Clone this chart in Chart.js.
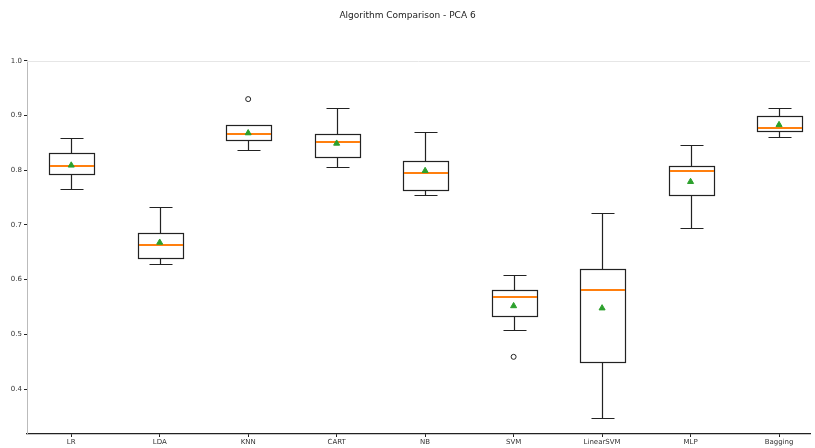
<!DOCTYPE html>
<html>
<head>
<meta charset="utf-8">
<script src="https://cdn.jsdelivr.net/npm/chart.js@4/dist/chart.umd.min.js"></script>
<style>
  html, body { margin: 0; padding: 0; background: #fff; overflow: hidden; }
  #wrap { width: 815px; height: 448px; position: relative; }
</style>
</head>
<body>
<div id="wrap"><canvas id="c"></canvas></div>
<script>
// Cross-validation accuracy per algorithm (box plot summary)
const categories   = ['LR', 'LDA', 'KNN', 'CART', 'NB', 'SVM', 'LinearSVM', 'MLP', 'Bagging'];
const whiskerLow   = [0.766, 0.628, 0.837, 0.806, 0.754, 0.508, 0.348, 0.695, 0.860];
const quartile1    = [0.793, 0.639, 0.855, 0.825, 0.764, 0.534, 0.449, 0.755, 0.872];
const medians      = [0.808, 0.663, 0.866, 0.851, 0.795, 0.569, 0.581, 0.799, 0.878];
const quartile3    = [0.831, 0.685, 0.882, 0.866, 0.817, 0.581, 0.620, 0.808, 0.900];
const whiskerHigh  = [0.859, 0.732, 0.882, 0.913, 0.869, 0.609, 0.721, 0.846, 0.913];
const means        = [0.809, 0.668, 0.868, 0.849, 0.799, 0.552, 0.548, 0.779, 0.883];
const outlierIndex = [2, 5];
const outlierValue = [0.930, 0.459];
const yTicks       = [0.4, 0.5, 0.6, 0.7, 0.8, 0.9, 1.0];

const boxPlugin = {
  id: 'boxes',
  beforeDatasetsDraw(chart) {
    const { ctx, scales: { x, y }, chartArea } = chart;
    ctx.save();
    // light top frame line
    ctx.strokeStyle = '#e6e6e6';
    ctx.lineWidth = 1;
    ctx.beginPath();
    ctx.moveTo(chartArea.left, Math.round(chartArea.top) + 0.5);
    ctx.lineTo(chartArea.right, Math.round(chartArea.top) + 0.5);
    ctx.stroke();

    const px = v => Math.round(v) + 0.5;
    categories.forEach((c, i) => {
      const cx = px(x.getPixelForValue(i + 1));
      const half = x.getPixelForValue(i + 1.25) - x.getPixelForValue(i + 1);
      const cap = half / 2;
      const yLo = px(y.getPixelForValue(whiskerLow[i]));
      const yQ1 = px(y.getPixelForValue(quartile1[i]));
      const yMd = Math.round(y.getPixelForValue(medians[i]));
      const yQ3 = px(y.getPixelForValue(quartile3[i]));
      const yHi = px(y.getPixelForValue(whiskerHigh[i]));
      const l = px(cx - half), r = px(cx + half);

      ctx.strokeStyle = '#222';
      ctx.lineWidth = 1.2;
      // box
      ctx.strokeRect(l, yQ3, r - l, yQ1 - yQ3);
      // whiskers
      ctx.beginPath();
      ctx.moveTo(cx, yQ3); ctx.lineTo(cx, yHi);
      ctx.moveTo(cx, yQ1); ctx.lineTo(cx, yLo);
      // caps
      ctx.moveTo(px(cx - cap), yHi); ctx.lineTo(px(cx + cap), yHi);
      ctx.moveTo(px(cx - cap), yLo); ctx.lineTo(px(cx + cap), yLo);
      ctx.stroke();
      // median
      ctx.strokeStyle = '#ff7f0e';
      ctx.lineWidth = 2;
      ctx.beginPath();
      ctx.moveTo(l + 0.5, yMd); ctx.lineTo(r - 0.5, yMd);
      ctx.stroke();
    });
    ctx.restore();
  }
};

new Chart(document.getElementById('c'), {
  type: 'scatter',
  data: {
    datasets: [
      {
        label: 'mean',
        data: categories.map((c, i) => ({ x: i + 1, y: means[i] })),
        pointStyle: 'triangle',
        pointRadius: 3.5,
        backgroundColor: '#2ca02c',
        borderColor: '#2ca02c',
        borderWidth: 1
      },
      {
        label: 'fliers',
        data: outlierIndex.map((k, j) => ({ x: k + 1, y: outlierValue[j] })),
        pointStyle: 'circle',
        pointRadius: 2.5,
        backgroundColor: '#fff',
        borderColor: '#222',
        borderWidth: 1
      }
    ]
  },
  options: {
    responsive: true,
    maintainAspectRatio: false,
    animation: false,
    devicePixelRatio: 1,
    layout: { padding: { left: 0, right: 0, top: 0, bottom: 0 } },
    plugins: {
      legend: { display: false },
      tooltip: { enabled: false },
      title: {
        display: true,
        text: 'Algorithm Comparison - PCA 6',
        color: '#222',
        font: { family: 'DejaVu Sans', size: 9, weight: 'normal' },
        padding: { top: 10, bottom: 40 }
      }
    },
    scales: {
      x: {
        type: 'linear',
        min: 0.5,
        max: 9.35,
        afterBuildTicks(scale) { scale.ticks = categories.map((c, i) => ({ value: i + 1 })); },
        afterFit(scale) { scale.height = 14; },
        ticks: {
          autoSkip: false,
          maxRotation: 0,
          padding: 1,
          color: '#333',
          font: { family: 'DejaVu Sans', size: 7 },
          callback: (v) => categories[Math.round(v) - 1]
        },
        grid: { drawOnChartArea: false, drawTicks: true, tickLength: 3, color: '#222' },
        border: { display: true, color: '#222', width: 1.2 }
      },
      y: {
        type: 'linear',
        min: 0.318,
        max: 1.0,
        afterBuildTicks(scale) { scale.ticks = yTicks.map(v => ({ value: v })); },
        afterFit(scale) { scale.width = 27; },
        ticks: {
          padding: 2,
          color: '#333',
          font: { family: 'DejaVu Sans', size: 7 },
          callback: (v) => v.toFixed(1)
        },
        grid: { drawOnChartArea: false, drawTicks: true, tickLength: 3, color: '#222' },
        border: { display: true, color: '#bbb', width: 1 }
      }
    }
  },
  plugins: [boxPlugin]
});
</script>
</body>
</html>
